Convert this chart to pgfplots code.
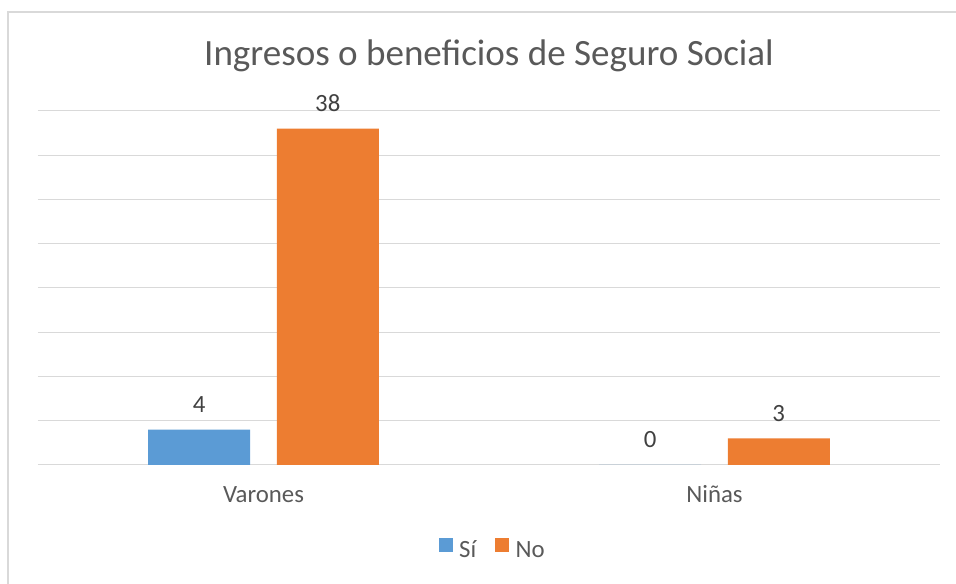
\documentclass[border=0pt]{standalone}
\usepackage{fontspec}
\setmainfont{Carlito}
\usepackage{pgfplots}
\pgfplotsset{compat=1.18}

\definecolor{sibar}{HTML}{5B9BD5}
\definecolor{nobar}{HTML}{ED7D31}
\definecolor{txtgray}{HTML}{595959}
\definecolor{lblgray}{HTML}{404040}
\definecolor{gridgray}{HTML}{D9D9D9}

\begin{document}
\begin{tikzpicture}
\path[use as bounding box] (0,0) rectangle (717pt,438pt);
\draw[gridgray, line width=1.5pt] (6pt,0) -- (6pt,429pt) -- (717pt,429pt);

\node[anchor=base, text=txtgray, font=\fontsize{27.8}{33}\selectfont]
  at (366.75pt,388.5pt) {Ingresos o beneficios de Seguro Social};

\begin{axis}[
    at={(28.5pt,89.25pt)}, anchor=south west,
    scale only axis,
    width=676.5pt, height=265.5pt,
    ybar, bar width=76.5pt,
    xmin=-0.5, xmax=1.5,
    ymin=0, ymax=40,
    xtick={0,1},
    xticklabels={Varones,Niñas},
    ytick={0,5,...,40},
    yticklabels={},
    major tick length=0pt,
    axis line style={draw=none},
    ymajorgrids,
    grid style={gridgray, line width=0.75pt},
    xticklabel style={anchor=base, yshift=-28.5pt, text=txtgray,
      font=\fontsize{18.6}{22}\selectfont},
    nodes near coords={\pgfmathprintnumber[assume math mode=true]{\pgfplotspointmeta}},
    nodes near coords style={anchor=base, yshift=12.75pt, text=lblgray,
      font=\fontsize{18.6}{22}\selectfont},
    legend columns=2,
    legend style={at={(0.5044,-0.24)}, anchor=center, draw=none,
      font=\fontsize{18.6}{22}\selectfont, text=txtgray,
      /tikz/every even column/.append style={column sep=12pt},
      inner sep=0pt},
    legend image code/.code={\fill[#1] (0pt,-1pt) rectangle (10.5pt,9.5pt);},
]
\addplot[fill=sibar, draw=none, bar shift=-48.2pt] coordinates {(0,4) (1,0)};
\addplot[fill=nobar, draw=none, bar shift=48.2pt] coordinates {(0,38) (1,3)};
\legend{\hspace{3pt}Sí,\hspace{3pt}No}
\end{axis}
\end{tikzpicture}
\end{document}
